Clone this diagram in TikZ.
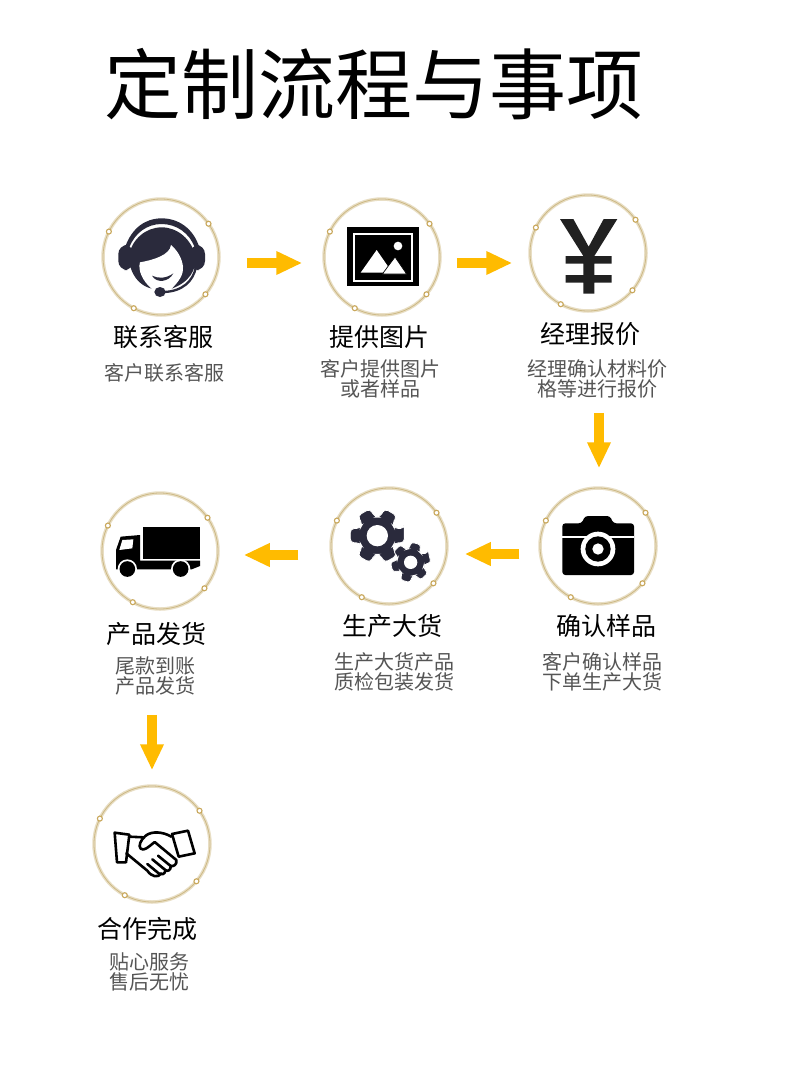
\documentclass[tikz,border=0pt]{standalone}
\usepackage{fontspec}
\setmainfont{Noto Sans CJK SC}
\usetikzlibrary{arrows.meta,calc}
\definecolor{navy}{HTML}{2A2A3C}
\definecolor{ringlight}{HTML}{E8DEC4}
\definecolor{ringdark}{HTML}{CDB985}
\definecolor{dotgold}{HTML}{C9A85C}
\definecolor{flow}{HTML}{FFBB00}
\definecolor{subgray}{HTML}{555555}
\tikzset{
  ringnode/.style={circle,minimum size=116pt,inner sep=0pt,draw=ringlight,line width=3.5pt},
  flowarrow/.style={draw=flow,line width=10.5pt,-{Triangle[length=26pt,width=22pt,fill=flow]}},
  titletext/.style={font=\fontsize{77}{77}\selectfont,text=black,inner sep=0pt},
  headtext/.style={font=\fontsize{25}{25}\selectfont,text=black,inner sep=0pt},
  subtext/.style={font=\fontsize{20}{20}\selectfont,text=subgray,inner sep=0pt},
  zoomed/.style={x=.33333pt,y=-.33333pt}
}
\newcommand{\ringdeco}[1]{%
  \draw[ringdark,line width=.8pt] (#1) circle (58pt);
  \foreach \a in {35,154,-40,-118}{
    \draw[dotgold,fill=white,line width=1.1pt] ($(#1)+(\a:58pt)$) circle (2.5pt);
  }
}
\newcommand{\gearshape}[7]{% cx cy Rout Rroot rot hole corner
  \begin{scope}[shift={(#1,#2)}]
  \filldraw[navy,draw=white,line width=.8pt,rounded corners=#7] (#5-15:#3)
    \foreach \k in {0,60,...,300}{
      -- (#5+\k-15:#3) -- (#5+\k+15:#3) -- (#5+\k+22:#4) -- (#5+\k+38:#4)
    } -- cycle;
  \fill[white] (0,0) circle (#6);
  \end{scope}
}
\begin{document}
\begin{tikzpicture}[x=1pt,y=-1pt]
\useasboundingbox (0,0) rectangle (790,1087);
\fill[white] (0,0) rectangle (790,1087);
\node[titletext] (title) at (374,84) {定制流程与事项};

\node[ringnode] (r1) at (161,257) {};
\node[ringnode] (r2) at (382,257) {};
\node[ringnode] (r3) at (588,253) {};
\node[ringnode] (r4) at (160,551) {};
\node[ringnode] (r5) at (389,546) {};
\node[ringnode] (r6) at (598,546) {};
\node[ringnode] (r7) at (152,844) {};
\ringdeco{r1}\ringdeco{r2}\ringdeco{r3}\ringdeco{r4}\ringdeco{r5}\ringdeco{r6}\ringdeco{r7}

% flow arrows
\draw[flowarrow] ([shift={(26,6)}]r1.east) -- ([shift={(-20,6)}]r2.west);
\draw[flowarrow] ([shift={(15,6)}]r2.east) -- ([shift={(-16,10)}]r3.west);
\draw[flowarrow] ([shift={(11,100)}]r3.south) -- ([shift={(1,-18)}]r6.north);
\draw[flowarrow] ([shift={(-19,8)}]r6.west) -- ([shift={(16,8)}]r5.east);
\draw[flowarrow] ([shift={(-31,9)}]r5.west) -- ([shift={(24,4)}]r4.east);
\draw[flowarrow] ([shift={(-8,104)}]r4.south) -- ([shift={(0,-14)}]r7.north);

% headset
\begin{scope}[shift={(110,210)},zoomed]
  % ear cups
  \fill[navy,rounded corners=9pt] (25,105) rectangle (70,180);
  \fill[navy,rounded corners=9pt] (240,105) rectangle (285,180);
  % band
  \fill[navy] (45,112) .. controls (65,55) and (105,25) .. (155,25)
     .. controls (205,25) and (250,55) .. (268,112) -- (254,112)
     .. controls (238,68) and (198,42) .. (155,42)
     .. controls (112,42) and (75,68) .. (58,112) -- cycle;
  % hair
  \fill[navy] (56,140) .. controls (64,88) and (108,52) .. (155,52)
     .. controls (202,52) and (246,88) .. (256,140)
     .. controls (260,180) and (237,217) .. (185,236)
     -- (125,236) .. controls (88,227) and (60,195) .. (56,140) -- cycle;
  % face
  \fill[white] (183,105) .. controls (180,135) and (130,150) .. (90,157)
     .. controls (83,180) and (97,213) .. (127,238) -- (183,238)
     .. controls (206,215) and (221,195) .. (219,170)
     .. controls (216,145) and (203,122) .. (183,105) -- cycle;
  % smile
  \fill[navy] (126,197) .. controls (145,207) and (170,205) .. (190,190)
     .. controls (178,215) and (140,222) .. (126,197) -- cycle;
  % boom and mic
  \draw[navy,line width=2.3pt] (258,170) .. controls (250,215) and (215,245) .. (160,246);
  \fill[navy] (150,246) ellipse (17 and 15);
\end{scope}

% picture
\begin{scope}[shift={(310,185)},zoomed]
  \fill[black] (112,127) rectangle (327,304);
  \draw[white,line width=2pt] (132,147) rectangle (307,287);
  \fill[white] (264,183) circle (13);
  \fill[white] (200,195) -- (247,263) -- (152,263) -- cycle;
  \filldraw[fill=white,draw=black,line width=.7pt] (255,216) -- (290,267) -- (217,267) -- cycle;
\end{scope}

% yen
\begin{scope}[shift={(310,185)},zoomed]
  \fill[black!87] (750,102) -- (790,102) -- (836,185) -- (881,102) -- (922,102) -- (853,213)
     -- (905,213) -- (905,236) -- (853,236) -- (853,270) -- (905,270) -- (905,293) -- (853,293)
     -- (853,326) -- (820,326) -- (820,293) -- (767,293) -- (767,270) -- (820,270) -- (820,236)
     -- (767,236) -- (767,213) -- (820,213) -- cycle;
\end{scope}

% truck
\begin{scope}[shift={(90,480)},zoomed]
  \fill[black] (160,141) rectangle (330,236);
  \fill[black] (78,258) -- (78,210) -- (92,170) -- (150,165) -- (150,242) -- (330,242)
     -- (330,258) -- (305,268) -- (78,268) -- cycle;
  \fill[white] (97,180) -- (130,178) -- (127,205) -- (88,210) -- cycle;
  \fill[white] (112,267) circle (29);
  \fill[white] (272,267) circle (29);
  \fill[black] (112,267) circle (23.5);
  \fill[black] (272,267) circle (23.5);
\end{scope}

% gears
\begin{scope}[shift={(90,480)},zoomed]
  \gearshape{862}{167}{84}{56}{0}{32}{4pt}
  \gearshape{962}{247}{61}{41}{-14}{20}{3pt}
\end{scope}

% camera
\begin{scope}[shift={(530,480)},zoomed]
  \fill[black,rounded corners=3pt] (97,130) -- (155,130) -- (165,108) -- (240,108) -- (250,130) -- (312,130) -- (312,285) -- (97,285) -- cycle;
  \fill[white] (97,168) rectangle (312,174);
  \fill[white] (204,207) circle (52);
  \fill[black] (204,207) circle (38);
  \fill[white] (204,207) circle (17);
\end{scope}

% handshake
\begin{scope}[shift={(108,820)},zoomed,line width=2.6pt,line join=round,line cap=round]
  \draw (20,38) -- (64,44) -- (54,127) -- (27,127) -- cycle;
  \draw (192,42) -- (240,32) -- (260,100) -- (212,110) -- cycle;
  \draw (64,50) -- (106,52);
  \draw (190,50) .. controls (165,35) and (130,32) .. (112,48)
     .. controls (98,60) and (90,78) .. (98,86)
     .. controls (108,94) and (120,82) .. (140,66)
     -- (205,120) .. controls (208,135) and (195,140) .. (188,138);
  \draw (55,100) -- (118,152) .. controls (130,170) and (150,175) .. (160,160);
  \draw (150,107) -- (188,138) .. controls (190,150) and (178,156) .. (172,150) -- (133,118);
  \draw (172,150) .. controls (172,164) and (160,165) .. (152,160) -- (118,132);
\end{scope}

% labels
\begin{scope}[shift={(.2,.2)}]
\node[headtext] (h1) at (163.5,337) {联系客服};
\node[subtext]  (s1) at (164.5,373) {客户联系客服};
\node[headtext] (h2) at (379,337) {提供图片};
\node[subtext]  (s2a) at (380,369) {客户提供图片};
\node[subtext]  (s2b) at (380,389) {或者样品};
\node[headtext] (h3) at (590,334) {经理报价};
\node[subtext]  (s3a) at (597,369) {经理确认材料价};
\node[subtext]  (s3b) at (597,389) {格等进行报价};
\node[headtext] (h4) at (606,626) {确认样品};
\node[subtext]  (s4a) at (602,662) {客户确认样品};
\node[subtext]  (s4b) at (602,682) {下单生产大货};
\node[headtext] (h5) at (392,626) {生产大货};
\node[subtext]  (s5a) at (394,662) {生产大货产品};
\node[subtext]  (s5b) at (394,682) {质检包装发货};
\node[headtext] (h6) at (156,634) {产品发货};
\node[subtext]  (s6a) at (155,666) {尾款到账};
\node[subtext]  (s6b) at (155,686) {产品发货};
\node[headtext] (h7) at (147,929) {合作完成};
\node[subtext]  (s7a) at (149,962) {贴心服务};
\node[subtext]  (s7b) at (149,982) {售后无忧};
\end{scope}
\end{tikzpicture}
\end{document}
